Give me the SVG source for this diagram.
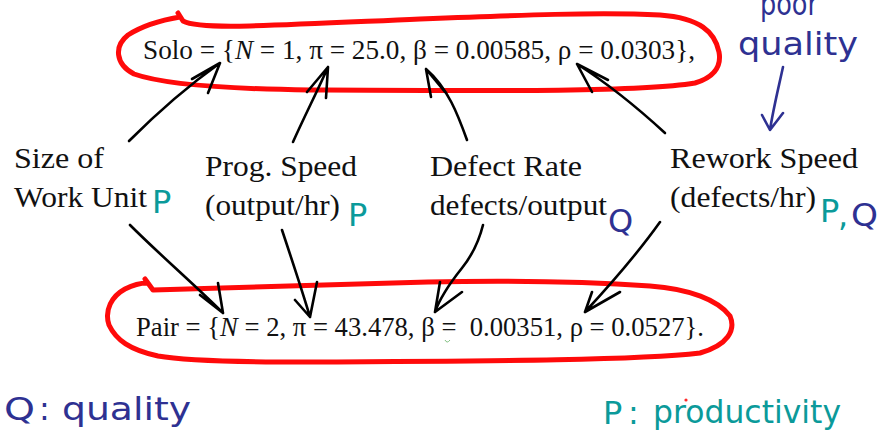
<svg xmlns="http://www.w3.org/2000/svg" width="880" height="447" viewBox="0 0 880 447">
<style>
.eq{font-family:"Liberation Serif","Times New Roman",serif;font-size:28px;fill:#111;white-space:pre}
.lb{font-family:"Liberation Serif","Times New Roman",serif;font-size:30px;fill:#111}
.hw{font-family:"DejaVu Sans","Noto Sans",sans-serif;font-size:32px}
.blue{fill:#2e3192}
.teal{fill:#0b9a9a}
.red{fill:none;stroke:#ff0a0a;stroke-width:5;stroke-linecap:round;stroke-linejoin:round}
.ink{fill:none;stroke:#000;stroke-width:2.6;stroke-linecap:round;stroke-linejoin:round}
.binke{fill:none;stroke:#2e3192;stroke-width:2.6;stroke-linecap:round;stroke-linejoin:round}
</style>
<rect width="880" height="447" fill="#fff"/>
<g id="solo">
<path class="red" d="M178,13 L183,21 C200,30 260,26 420,19 C520,15 600,12 660,15 C700,18 715,32 719,52 C722,68 712,78 695,83 C640,92 500,91 310,90 C230,89 165,85 134,74 C115,64 114,46 128,35 C142,26 162,20 180,17"/>
<text class="eq" x="143" y="59" textLength="552" lengthAdjust="spacingAndGlyphs">Solo = {<tspan font-style="italic">N</tspan> = 1, π = 25.0, β = 0.00585, ρ = 0.0303},</text>
</g>
<g id="pair">
<path class="red" d="M145,279 L153,290 C200,289 264,286 428,282 C520,280 592,282 650,286 C690,289 718,300 730,316 C736,330 728,345 700,353 C640,360 510,361 305,362 C230,362 180,360 158,356 C130,350 116,340 109,325 C104,310 112,296 125,289 C133,285 140,283 147,283"/>
<text class="eq" x="136" y="336" textLength="568" lengthAdjust="spacingAndGlyphs">Pair = {<tspan font-style="italic">N</tspan> = 2, π = 43.478, β =  0.00351, ρ = 0.0527}.</text>
<path d="M445,340 Q447,344 450,340" fill="none" stroke="#7fbf7f" stroke-width="1"/>
</g>
<g id="size">
<text class="lb" x="14" y="168" textLength="90" lengthAdjust="spacingAndGlyphs">Size of</text>
<text class="lb" x="14" y="207" textLength="133" lengthAdjust="spacingAndGlyphs">Work Unit</text>
<text class="hw teal" x="152" y="213" font-size="26">P</text>
</g>
<g id="prog">
<text class="lb" x="205" y="176" textLength="152" lengthAdjust="spacingAndGlyphs">Prog. Speed</text>
<text class="lb" x="205" y="215" textLength="135" lengthAdjust="spacingAndGlyphs">(output/hr)</text>
<text class="hw teal" x="348" y="226" font-size="34">P</text>
</g>
<g id="defect">
<text class="lb" x="430" y="176" textLength="152" lengthAdjust="spacingAndGlyphs">Defect Rate</text>
<text class="lb" x="430" y="215" textLength="177" lengthAdjust="spacingAndGlyphs">defects/output</text>
<text class="hw blue" x="608" y="232" font-size="34">Q</text>
</g>
<g id="rework">
<text class="lb" x="670" y="168" textLength="188" lengthAdjust="spacingAndGlyphs">Rework Speed</text>
<text class="lb" x="670" y="207" textLength="146" lengthAdjust="spacingAndGlyphs">(defects/hr)</text>
<text class="hw teal" x="820" y="222" font-size="36">P</text>
<text class="hw teal" x="838" y="226" font-size="36">,</text>
<text class="hw blue" x="851" y="226" font-size="36" textLength="27" lengthAdjust="spacingAndGlyphs">Q</text>
</g>
<g id="poor-quality">
<text class="hw blue" x="760" y="15" font-size="36" textLength="58" lengthAdjust="spacingAndGlyphs">poor</text>
<text class="hw blue" x="738" y="55" textLength="120" lengthAdjust="spacingAndGlyphs">quality</text>
</g>
<g id="legend">
<text class="hw blue" x="4" y="420" font-size="40" textLength="31" lengthAdjust="spacingAndGlyphs">Q</text>
<text class="hw blue" x="39" y="420">:</text>
<text class="hw blue" x="62" y="420" font-size="34" textLength="129" lengthAdjust="spacingAndGlyphs">quality</text>
<text class="hw teal" x="603" y="424" font-size="38">P</text>
<text class="hw teal" x="628" y="424">:</text>
<text class="hw teal" x="653" y="423" textLength="188" lengthAdjust="spacingAndGlyphs">productivity</text>
<circle cx="686" cy="400" r="1.6" fill="#ff2a2a"/>
</g>
<g id="connectors">
<path class="ink" d="M129,141 C150,120 185,88 220,63 M192,79 L220,63 L208,93"/>
<path class="ink" d="M293,142 C305,115 318,90 328,67 M307,92 L328,67 L326,98"/>
<path class="ink" d="M467,140 C458,115 448,88 426,69 M431,97 L426,69 L445,92"/>
<path class="ink" d="M665,133 C640,110 610,85 577,64 M592,92 L577,64 L608,80"/>
<path class="ink" d="M130,225 C160,255 195,285 223,313 M200,295 L223,313 L218,283"/>
<path class="ink" d="M282,230 C292,260 302,290 310,317 M295,300 L310,317 L317,282"/>
<path class="ink" d="M483,225 C478,245 470,258 462,268 C450,283 440,298 435,312 M440,282 L435,312 L462,292"/>
<path class="ink" d="M660,222 C640,250 610,285 585,312 M592,292 L585,312 L620,292"/>
<path class="binke" d="M783,67 C778,90 773,110 770,130 M762,115 L770,130 L783,113"/>
</g>
</svg>
